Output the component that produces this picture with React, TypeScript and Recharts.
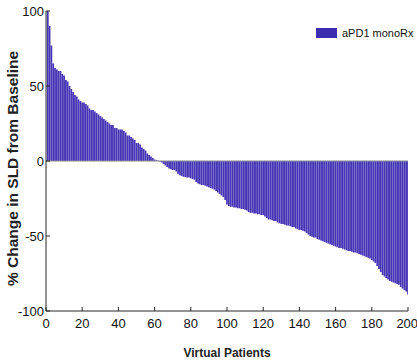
import React from 'react';
import {
  BarChart,
  Bar,
  XAxis,
  YAxis,
  ReferenceLine,
  Legend,
} from "recharts";

// % change in SLD, sorted (patients 1..200)
const change1 = [100, 90, 77, 65, 62, 61, 60, 60, 58, 57, 54, 53, 50, 48, 46, 44, 43, 41, 40, 39];
const change2 = [39, 38, 37, 35, 34, 34, 33, 32, 31, 30, 29, 28, 27, 26, 25, 24, 24, 22, 22, 21];
const change3 = [21, 21, 20, 19, 17, 17, 16, 15, 14, 12, 12, 11, 9, 8, 7, 5, 4, 3, 2, 1];
const change4 = [0.5, 0.3, -0.3, -1, -2, -3, -4, -5, -5.5, -6, -6, -7, -8.5, -9.5, -10, -10.5, -10.7, -11, -11, -11.5];
const change5 = [-12, -12.5, -14, -15, -15.5, -16, -16, -16.5, -17, -17.5, -18, -18.5, -19, -20, -21, -22, -23, -24, -26, -29];
const change6 = [-30, -30.5, -30.5, -31, -31, -31.5, -31.5, -32, -32, -32.5, -33, -34, -34.5, -34.5, -35, -35, -35.5, -35.5, -36, -36];
const change7 = [-37, -38, -39, -39, -39.5, -40, -40, -41, -41.5, -42, -42, -42.5, -43, -43, -43.5, -44, -44, -45, -45.5, -46];
const change8 = [-46, -46.5, -47, -48, -49, -50, -50.5, -51, -51, -52, -52.5, -53, -53.5, -54, -54.5, -55, -55.5, -56, -56.5, -57];
const change9 = [-57.5, -58, -58, -58.5, -59, -59.5, -60, -60, -60.5, -61, -61, -61.5, -62, -62.5, -63, -63.5, -64, -64.5, -65, -66];
const change10 = [-67, -68, -70, -72, -74, -76, -77, -78, -79, -80, -80.5, -81, -81.5, -82, -82.5, -84, -85, -86, -87, -89];

const changes = [
  ...change1, ...change2, ...change3, ...change4, ...change5,
  ...change6, ...change7, ...change8, ...change9, ...change10,
];

const xTicks = [0, 20, 40, 60, 80, 100, 120, 140, 160, 180, 200];
const yTicks = [-100, -50, 0, 50, 100];
const seriesName = 'aPD1 monoRx';

const data = changes.map((v, i) => ({ patient: i + 1, change: v }));

const BAR_COLOR = '#4636b6';
const AXIS_COLOR = '#262626';
const FONT = '"Liberation Sans Narrow", "Liberation Sans", Arial, sans-serif';
const BOLD_FONT = '"Liberation Sans", Arial, sans-serif';

const LegendBox = () => (
  <div style={{ display: 'flex', alignItems: 'center', fontFamily: BOLD_FONT, fontSize: 11, color: '#111' }}>
    <span style={{ display: 'inline-block', width: 21, height: 10, background: '#3d2db0', marginRight: 5 }} />
    <span>{seriesName}</span>
  </div>
);

const App = () => {
  return (
    <div style={{ position: 'absolute', left: 0, top: 0, width: 417, height: 361, background: '#fff' }}>
      <BarChart
        width={417}
        height={361}
        data={data}
        margin={{ top: 11, right: 9, left: 0, bottom: 0 }}
        barCategoryGap={0}
      >
        <XAxis
          dataKey="patient"
          type="number"
          domain={[0, 200]}
          ticks={xTicks}
          allowDataOverflow
          height={50}
          stroke={AXIS_COLOR}
          tickSize={-4}
          tickMargin={12}
          tick={{ fill: '#111', fontSize: 13, fontFamily: FONT }}
          label={{ value: 'Virtual Patients', position: 'insideBottom', offset: 4, fill: '#222', fontSize: 12, fontWeight: 'bold', fontFamily: BOLD_FONT }}
        />
        <XAxis
          xAxisId="top"
          orientation="top"
          dataKey="patient"
          type="number"
          domain={[0, 200]}
          ticks={xTicks}
          allowDataOverflow
          height={0}
          stroke={AXIS_COLOR}
          tickSize={-4}
          tickFormatter={() => ''}
        />
        <YAxis
          type="number"
          domain={[-100, 100]}
          ticks={yTicks}
          allowDataOverflow
          width={46}
          stroke={AXIS_COLOR}
          tickSize={-4}
          tickMargin={6}
          tick={{ fill: '#111', fontSize: 13, fontFamily: FONT }}
          label={{ value: '% Change in SLD from Baseline', angle: -90, position: 'insideLeft', offset: 12, dy: 125, fill: '#222', fontSize: 15.5, fontWeight: 'bold', fontFamily: BOLD_FONT }}
        />
        <YAxis
          yAxisId="right"
          orientation="right"
          type="number"
          domain={[-100, 100]}
          ticks={yTicks}
          allowDataOverflow
          width={0}
          stroke={AXIS_COLOR}
          tickSize={-4}
          tickFormatter={() => ''}
        />
        <Legend
          layout="vertical"
          align="center"
          verticalAlign="middle"
          wrapperStyle={{ position: 'absolute', top: 27, left: 316, width: 'auto' }}
          content={() => <LegendBox />}
        />
        <Bar dataKey="change" name={seriesName} fill={BAR_COLOR} barSize={1.75} isAnimationActive={false} />
        <ReferenceLine y={0} stroke="#8c8c8c" strokeWidth={1.2} />
      </BarChart>
    </div>
  );
};

export default App;
